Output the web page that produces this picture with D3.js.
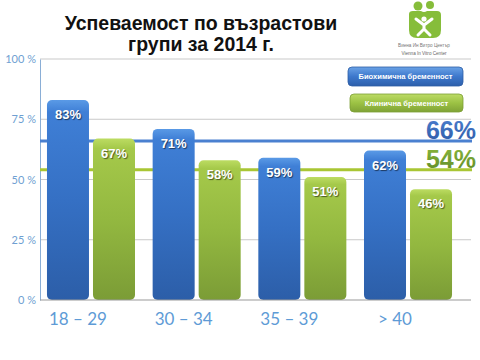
<!DOCTYPE html>
<html>
<head>
<meta charset="utf-8">
<script src="https://cdn.jsdelivr.net/npm/d3@7"></script>
<style>
  body { margin: 0; background: #fff; }
  svg { display: block; }
  .barlabel { text-shadow: 1px 1px 1px rgba(0,0,0,0.55); }
</style>
</head>
<body>
<div id="chart"></div>
<script>
// data
var groups = ['18 – 29', '30 – 34', '35 – 39', '> 40'];
var seriesKeys = ['bio', 'clin'];
var seriesNames = ['Биохимична бременност', 'Клинична бременност'];
var bioValues = [83, 71, 59, 62];
var clinValues = [67, 58, 51, 46];
var averages = [66, 54];
var yTicks = [0, 25, 50, 75, 100];
var titleLines = ['Успеваемост по възрастови', 'групи за 2014 г.'];

var width = 480, height = 360;
var svg = d3.select('#chart').append('svg').attr('width', width).attr('height', height);

var defs = svg.append('defs');
function vgrad(id, stops) {
  var g = defs.append('linearGradient').attr('id', id).attr('x1', 0).attr('y1', 0).attr('x2', 0).attr('y2', 1);
  stops.forEach(function (s) { g.append('stop').attr('offset', s[0]).attr('stop-color', s[1]); });
}
vgrad('gBlue', [[0, '#5a9ae6'], [0.06, '#3f7fd6'], [0.5, '#3570c4'], [1, '#2c5ea8']]);
vgrad('gGreen', [[0, '#bcdc62'], [0.06, '#a5c94a'], [0.5, '#93b840'], [1, '#7b9c36']]);
vgrad('gBlueBtn', [[0, '#6aa2e6'], [0.5, '#3d78cc'], [1, '#2d5fab']]);
vgrad('gGreenBtn', [[0, '#bcdb66'], [0.5, '#9cc244'], [1, '#7fa236']]);
vgrad('g66', [[0, '#4d80d0'], [1, '#2d5aa6']]);
vgrad('g54', [[0, '#8ab83e'], [1, '#5f8a26']]);

var colors = { bio: 'url(#gBlue)', clin: 'url(#gGreen)' };

var y = d3.scaleLinear().domain([0, 100]).range([300, 59]);
var x0 = d3.scaleBand().domain(groups).range([40, 459]).paddingInner(0.167).paddingOuter(0.066);
var x1 = d3.scaleBand().domain(seriesKeys).range([0, x0.bandwidth()]).paddingInner(0.087);

// title
svg.selectAll('text.title').data(titleLines).enter().append('text')
  .attr('class', 'title')
  .attr('x', 201)
  .attr('y', function (d, i) { return 30 + i * 21; })
  .attr('text-anchor', 'middle')
  .style('font-family', 'Liberation Sans, Arial, sans-serif')
  .style('font-weight', 'bold')
  .style('font-size', '19.5px')
  .style('fill', '#111')
  .text(function (d) { return d; });

// logo (simplified)
var logo = svg.append('g');
logo.append('circle').attr('cx', 418).attr('cy', 6).attr('r', 4.5).attr('fill', '#86bd3a');
logo.append('circle').attr('cx', 430).attr('cy', 5).attr('r', 4).attr('fill', '#86bd3a');
logo.append('path')
  .attr('d', 'M409,14 Q409,11 413,11 L421,11 Q424,13 427,11 L437,11 Q441,11 441,15 L441,30 Q441,38 433,38 L417,38 Q409,38 409,30 Z')
  .attr('fill', '#86bd3a');
logo.append('circle').attr('cx', 424).attr('cy', 19).attr('r', 2.6).attr('fill', '#fff');
logo.append('path')
  .attr('d', 'M416,19 L424,25 L432,19 M424,25 L424,29 M418,35 L424,29 L430,35')
  .attr('fill', 'none').attr('stroke', '#fff').attr('stroke-width', 3).attr('stroke-linecap', 'round');
logo.append('text').attr('x', 424).attr('y', 47).attr('text-anchor', 'middle')
  .style('font-family', 'Liberation Sans, sans-serif').style('font-size', '4.6px').style('fill', '#777')
  .text('Виена Ин Витро Център');
logo.append('text').attr('x', 424).attr('y', 55).attr('text-anchor', 'middle')
  .style('font-family', 'Liberation Sans, sans-serif').style('font-size', '4.6px').style('fill', '#666')
  .text('Vienna In Vitro Center');

// gridlines
svg.append('g').selectAll('line').data(yTicks.filter(function (t) { return t > 0; })).enter().append('line')
  .attr('x1', 40).attr('x2', 471)
  .attr('y1', function (d) { return y(d); }).attr('y2', function (d) { return y(d); })
  .attr('stroke', '#c9c9c9').attr('stroke-width', 1);

// y axis
var yAxis = svg.append('g').attr('transform', 'translate(40,0)')
  .call(d3.axisLeft(y).tickValues(yTicks).tickSize(0).tickPadding(4).tickFormat(function (d) { return d + ' %'; }));
yAxis.select('.domain').attr('stroke', '#8aaed6');
yAxis.selectAll('text')
  .style('font-family', 'Lato, Open Sans, sans-serif').style('font-size', '11px').style('fill', '#6f9fd2');

// average lines
var avgColors = ['#4b80d0', '#a9c634'];
svg.append('g').selectAll('line').data(averages).enter().append('line')
  .attr('x1', 40).attr('x2', 472)
  .attr('y1', function (d) { return y(d); }).attr('y2', function (d) { return y(d); })
  .attr('stroke', function (d, i) { return avgColors[i]; }).attr('stroke-width', 3);

// bars
var rows = groups.map(function (g, i) { return { group: g, bio: bioValues[i], clin: clinValues[i] }; });
var gg = svg.append('g').selectAll('g').data(rows).enter().append('g')
  .attr('transform', function (d) { return 'translate(' + x0(d.group) + ',0)'; });
var bars = gg.selectAll('g').data(function (d) {
  return seriesKeys.map(function (k) { return { key: k, value: d[k] }; });
}).enter().append('g');
bars.append('rect')
  .attr('x', function (d) { return x1(d.key); })
  .attr('y', function (d) { return y(d.value); })
  .attr('width', x1.bandwidth())
  .attr('height', function (d) { return y(0) - y(d.value); })
  .attr('rx', 5)
  .attr('fill', function (d) { return colors[d.key]; });
bars.append('text')
  .attr('class', 'barlabel')
  .attr('x', function (d) { return x1(d.key) + x1.bandwidth() / 2; })
  .attr('y', function (d) { return y(d.value) + 19; })
  .attr('text-anchor', 'middle')
  .style('font-family', 'Liberation Sans, Arial, sans-serif')
  .style('font-weight', 'bold').style('font-size', '13px').style('fill', '#fff')
  .text(function (d) { return d.value + '%'; });

// baseline
svg.append('line').attr('x1', 40).attr('x2', 471).attr('y1', y(0)).attr('y2', y(0))
  .attr('stroke', '#9a9a9a').attr('stroke-width', 1.2);

// category labels
svg.append('g').selectAll('text').data(groups).enter().append('text')
  .attr('x', function (d) { return x0(d) + x0.bandwidth() / 2 - 13; })
  .attr('y', 325)
  .attr('text-anchor', 'middle')
  .style('font-family', 'Lato, Open Sans, sans-serif').style('font-size', '17px').style('fill', '#5e9bd6')
  .text(function (d) { return d; });

// average labels
var avgFills = ['url(#g66)', 'url(#g54)'];
svg.append('g').selectAll('text').data(averages).enter().append('text')
  .attr('x', 476)
  .attr('y', function (d) { return y(d) - 2; })
  .attr('text-anchor', 'end')
  .style('font-family', 'Liberation Sans, Arial, sans-serif')
  .style('font-weight', 'bold').style('font-size', '25px')
  .style('fill', function (d, i) { return avgFills[i]; })
  .text(function (d) { return d + '%'; });

// legend buttons
var legendBoxes = [{ x: 348, y: 67, w: 115, h: 19, fill: 'url(#gBlueBtn)', stroke: '#2d5da5' },
                   { x: 350, y: 94, w: 113, h: 18, fill: 'url(#gGreenBtn)', stroke: '#7c9e35' }];
var lg = svg.append('g').selectAll('g').data(seriesNames).enter().append('g');
lg.append('rect')
  .attr('x', function (d, i) { return legendBoxes[i].x; })
  .attr('y', function (d, i) { return legendBoxes[i].y; })
  .attr('width', function (d, i) { return legendBoxes[i].w; })
  .attr('height', function (d, i) { return legendBoxes[i].h; })
  .attr('rx', 4)
  .attr('fill', function (d, i) { return legendBoxes[i].fill; })
  .attr('stroke', function (d, i) { return legendBoxes[i].stroke; }).attr('stroke-width', 0.8);
lg.append('text')
  .attr('x', function (d, i) { return legendBoxes[i].x + legendBoxes[i].w / 2; })
  .attr('y', function (d, i) { return legendBoxes[i].y + legendBoxes[i].h / 2 + 2.8; })
  .attr('text-anchor', 'middle')
  .style('font-family', 'Liberation Sans, Arial, sans-serif')
  .style('font-weight', 'bold').style('font-size', '7.6px').style('fill', '#fff')
  .text(function (d) { return d; });
</script>
</body>
</html>
